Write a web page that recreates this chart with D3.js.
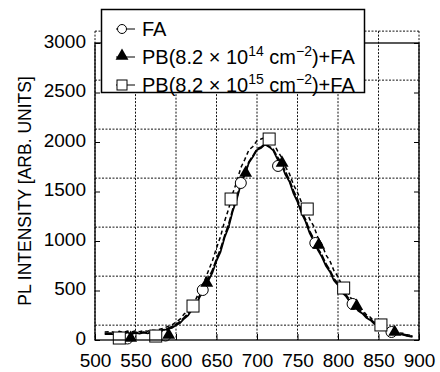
<!DOCTYPE html>
<html>
<head>
<meta charset="utf-8">
<script src="https://cdn.jsdelivr.net/npm/d3@7"></script>
<style>
body{margin:0;background:#fff;}
svg{font-family:"Liberation Sans",Arial,sans-serif;}
</style>
</head>
<body>
<svg id="canvas" width="440" height="372"></svg>
<script>
// wavelength (nm) of the spectra
let wl=[512,520,525,530,535,540,545,550,555,560,565,570,575,580,585,590,595,600,605,610,615,
620,625,630,635,640,645,650,655,660,665,670,675,680,685,690,695,700,705,710,715,
720,725,730,735,740,745,750,755,760,765,770,775,780,785,790,795,800,805,810,815,
820,825,830,835,840,845,850,855,860,865,870,875,880,885,892];

let faLine=[58,62,55,70,58,66,60,72,64,74,68,80,76,90,98,112,122,148,170,215,248,
310,360,445,505,600,680,800,890,1035,1140,1300,1420,1570,1670,1790,1850,1920,1940,1975,1950,
1915,1830,1775,1670,1600,1480,1395,1280,1195,1080,1000,910,840,750,690,600,555,480,440,380,
350,295,268,225,200,162,145,112,100,80,74,58,54,42,30];

let pb14Line=[66,70,64,75,68,72,66,78,70,80,74,84,82,95,105,118,135,158,185,225,270,
325,385,460,530,620,705,815,920,1050,1170,1315,1440,1585,1680,1800,1860,1930,1950,1980,1955,
1925,1850,1790,1700,1615,1510,1420,1300,1215,1100,1020,925,860,770,705,620,570,495,455,395,
362,310,280,238,210,172,152,120,106,88,78,64,58,48,38];

let pb15Line=[80,85,72,88,76,90,80,92,84,95,88,100,96,110,120,138,152,182,210,262,300,
360,420,510,590,700,800,930,1045,1200,1325,1480,1600,1740,1825,1920,1955,2015,2030,2045,2030,
2000,1915,1850,1750,1680,1570,1490,1390,1335,1220,1150,1040,970,860,800,700,640,550,510,430,
400,330,305,255,230,185,165,130,118,95,88,70,68,52,45];

// marker points
let faPts=[[540,15],[587,45],[633,505],[680,1586],[726,1758],[772,980],[818,364],[866,81]];
let pb14Pts=[[544,20],[591,50],[638,575],[686,1687],[731,1788],[776,960],[823,343],[870,80]];
let pb15Pts=[[530,20],[575,40],[621,343],[668,1424],[715,2030],[762,1323],[807,525],[853,152]];

let xTicks=[500,550,600,650,700,750,800,850,900];
let yTicks=[0,500,1000,1500,2000,2500,3000];
let gridY=[150,645,1140,1635,2130,2625,3120];

let canvas=d3.select('#canvas');
let x=d3.scaleLinear().domain([500,900]).range([95,419]);
let y=d3.scaleLinear().domain([0,3000]).range([340,43]);

// dotted grid
let grid=canvas.append('g').attr('stroke','#111').attr('stroke-width',1).attr('stroke-dasharray','2,1.5');
grid.selectAll('.gx').data(xTicks).enter().append('line').attr('x1',d=>x(d)).attr('x2',d=>x(d)).attr('y1',y(3120)).attr('y2',y(0));
grid.selectAll('.gy').data(gridY).enter().append('line').attr('x1',x(500)).attr('x2',x(900)).attr('y1',d=>y(d)).attr('y2',d=>y(d));

// spectra
let line=(arr)=>d3.line().x((d,i)=>x(wl[i])).y(d=>y(d))(arr);
canvas.append('path').attr('d',line(faLine)).attr('fill','none').attr('stroke','#000').attr('stroke-width',1.7);
canvas.append('path').attr('d',line(pb14Line)).attr('fill','none').attr('stroke','#000').attr('stroke-width',1.8).attr('stroke-dasharray','7,2');
canvas.append('path').attr('d',line(pb15Line)).attr('fill','none').attr('stroke','#000').attr('stroke-width',1.5).attr('stroke-dasharray','4,3');

// markers
canvas.selectAll('.fa').data(faPts).enter().append('circle').attr('cx',d=>x(d[0])).attr('cy',d=>y(d[1])).attr('r',5.5).attr('fill','#fff').attr('stroke','#000').attr('stroke-width',1);
let tri=d3.symbol().type(d3.symbolTriangle).size(72);
canvas.selectAll('.pb14').data(pb14Pts).enter().append('path').attr('d',tri).attr('transform',d=>'translate('+x(d[0])+','+y(d[1])+')').attr('fill','#000');
canvas.selectAll('.pb15').data(pb15Pts).enter().append('rect').attr('x',d=>x(d[0])-6).attr('y',d=>y(d[1])-6).attr('width',12).attr('height',12).attr('fill','#fff').attr('stroke','#000').attr('stroke-width',1);

// frame + axes
canvas.append('rect').attr('x',x(500)).attr('y',y(3000)).attr('width',x(900)-x(500)).attr('height',y(0)-y(3000)).attr('fill','none').attr('stroke','#000').attr('stroke-width',1.3);
let xAxis=d3.axisBottom(x).tickValues(xTicks).tickFormat(d3.format('d')).tickSize(-6).tickPadding(14);
let yAxis=d3.axisLeft(y).tickValues(yTicks).tickFormat(d3.format('d')).tickSize(-5).tickPadding(9);
let yAxisR=d3.axisRight(y).tickValues(yTicks).tickSize(-5).tickFormat('');
canvas.append('g').attr('transform','translate(0,'+y(0)+')').call(xAxis).style('font','19px "Liberation Sans",Arial').call(g=>g.select('.domain').remove());
canvas.append('g').attr('transform','translate('+x(500)+',-2)').call(yAxis).style('font','19px "Liberation Sans",Arial').call(g=>g.selectAll('.domain,line').remove());
canvas.append('g').attr('transform','translate('+x(500)+',0)').call(d3.axisLeft(y).tickValues(yTicks).tickSize(-5).tickFormat('')).call(g=>g.select('.domain').remove());
canvas.append('g').attr('transform','translate('+x(900)+',0)').call(yAxisR).call(g=>g.select('.domain').remove());
canvas.selectAll('.tick text').attr('fill','#000');
canvas.selectAll('.tick line').attr('stroke','#000');

canvas.append('text').attr('transform','rotate(-90)').attr('x',-191).attr('y',31).attr('text-anchor','middle')
.style('font-size','17.5px').text('PL INTENSITY [ARB. UNITS]');

// legend
let leg=canvas.append('g');
leg.append('rect').attr('x',101.5).attr('y',9.5).attr('width',263).attr('height',83).attr('fill','#fff').attr('stroke','#000').attr('stroke-width',1.5);
let legY=[29,57,85];
leg.selectAll('.ll').data(legY).enter().append('line').attr('x1',116).attr('x2',135).attr('y1',d=>d).attr('y2',d=>d).attr('stroke','#000');
leg.append('circle').attr('cx',122).attr('cy',legY[0]).attr('r',4.5).attr('fill','#fff').attr('stroke','#000');
leg.append('path').attr('d',tri).attr('transform','translate(122,'+(legY[1]-1)+')').attr('fill','#000');
leg.append('rect').attr('x',117).attr('y',legY[2]-5).attr('width',10).attr('height',10).attr('fill','#fff').attr('stroke','#000');
let lt=leg.append('g').style('font-size','20px');
lt.append('text').attr('x',142).attr('y',legY[0]+7).text('FA');
let expLabel=(yy,e)=>{
  let t=lt.append('text').attr('x',142).attr('y',yy+7);
  t.append('tspan').text('PB(8.2 \u00d7 10');
  t.append('tspan').attr('dy',-8).style('font-size','14px').text(e);
  t.append('tspan').attr('dy',8).text(' cm');
  t.append('tspan').attr('dy',-8).style('font-size','14px').text('\u22122');
  t.append('tspan').attr('dy',8).text(')+FA');
};
expLabel(legY[1],'14');
expLabel(legY[2],'15');
</script>
</body>
</html>
